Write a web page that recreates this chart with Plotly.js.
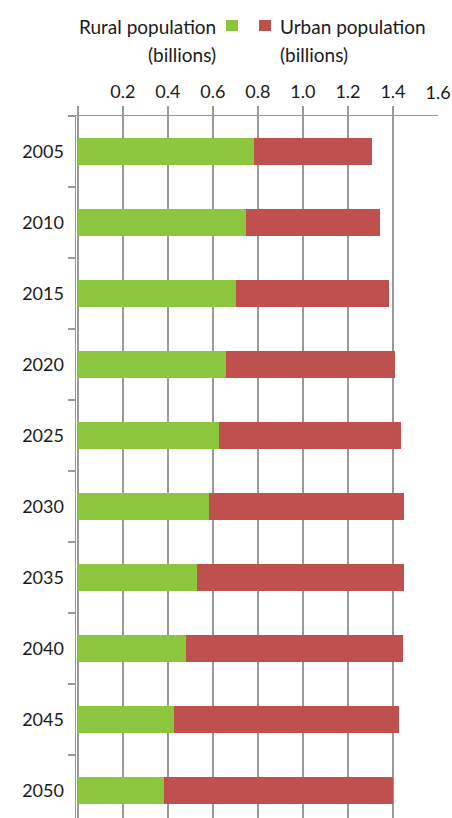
<!DOCTYPE html>
<html>
<head>
<meta charset="utf-8">
<script src="https://cdn.plot.ly/plotly-3.0.1.min.js"></script>
<style>html,body{margin:0;padding:0;background:#fff}#chart{width:452px;height:818px}</style>
</head>
<body>
<div id="chart"></div>
<script>
const years = ['2005','2010','2015','2020','2025','2030','2035','2040','2045','2050'];
const rural = [0.782,0.746,0.704,0.659,0.625,0.583,0.531,0.481,0.429,0.384];
const urban = [0.525,0.595,0.680,0.751,0.812,0.868,0.920,0.963,0.997,1.017];
const seriesNames = ['Rural population', 'Urban population'];
const unitLabel = '(billions)';
const xTicks = [0,0.2,0.4,0.6,0.8,1.0,1.2,1.4];
const xTickText = ['','0.2','0.4','0.6','0.8','1.0','1.2','1.4'];
const lastTick = [1.6];
const lastTickText = ['1.6'];

const GREEN = '#8cc63f', RED = '#c0504d', GRID = '#9a9a9a', TXT = '#1a1a1a';
const FONT = 'Lato, "Open Sans", sans-serif';

const traces = [
  {type:'bar', orientation:'h', y:years, x:rural, name:seriesNames[0],
   marker:{color:GREEN, line:{width:0}}, hoverinfo:'x+y'},
  {type:'bar', orientation:'h', y:years, x:urban, name:seriesNames[1],
   marker:{color:RED, line:{width:0}}, hoverinfo:'x+y'}
];

const layout = {
  width:452, height:818,
  margin:{l:76, r:14, t:116, b:0, pad:0},
  barmode:'stack', bargap:0.614,
  showlegend:false,
  paper_bgcolor:'#fff', plot_bgcolor:'#fff',
  font:{family:FONT, size:16, color:TXT},
  xaxis:{side:'top', range:[-0.008,1.6], tickvals:xTicks, ticktext:xTickText,
    showgrid:true, gridcolor:GRID, gridwidth:1.5, zeroline:false,
    showline:true, linecolor:GRID, linewidth:1.5,
    ticks:'outside', ticklen:9, tickcolor:GRID, tickwidth:1.5,
    tickfont:{family:FONT, size:18, color:TXT}, fixedrange:true},
  xaxis2:{overlaying:'x', side:'top', range:[-0.008,1.6], tickvals:lastTick, ticktext:lastTickText,
    showgrid:false, zeroline:false, showline:false, ticks:'outside', ticklen:9, tickcolor:'rgba(0,0,0,0)',
    tickfont:{family:FONT, size:18, color:TXT}, fixedrange:true},
  yaxis:{type:'category', range:[9.387,-0.5], tickson:'boundaries',
    ticks:'outside', ticklen:7, tickcolor:GRID, tickwidth:1.5,
    showline:true, linecolor:GRID, linewidth:1.5, showgrid:false, zeroline:false,
    ticklabelstandoff:7,
    tickfont:{family:FONT, size:18, color:TXT}, fixedrange:true},
  annotations:[
    {xref:'paper', yref:'paper', x:(218-76)/362, y:1+(116-26)/702, xanchor:'right', yanchor:'middle',
     text:seriesNames[0], showarrow:false, font:{family:FONT, size:19, color:TXT}},
    {xref:'paper', yref:'paper', x:(218-76)/362, y:1+(116-55)/702, xanchor:'right', yanchor:'middle',
     text:unitLabel, showarrow:false, font:{family:FONT, size:19, color:TXT}},
    {xref:'paper', yref:'paper', x:(278-76)/362, y:1+(116-26)/702, xanchor:'left', yanchor:'middle',
     text:seriesNames[1], showarrow:false, font:{family:FONT, size:19, color:TXT}},
    {xref:'paper', yref:'paper', x:(278-76)/362, y:1+(116-55)/702, xanchor:'left', yanchor:'middle',
     text:unitLabel, showarrow:false, font:{family:FONT, size:19, color:TXT}}
  ],
  shapes:[
    {type:'rect', xref:'paper', yref:'paper', x0:(226-76)/362, x1:(238-76)/362,
     y0:1+(116-31)/702, y1:1+(116-20)/702, fillcolor:GREEN, line:{width:0}},
    {type:'rect', xref:'paper', yref:'paper', x0:(259-76)/362, x1:(271-76)/362,
     y0:1+(116-31)/702, y1:1+(116-20)/702, fillcolor:RED, line:{width:0}}
  ]
};
// empty trace so the second (label-only) axis is drawn
traces.push({type:'scatter', x:[], y:[], xaxis:'x2', yaxis:'y', showlegend:false, hoverinfo:'skip'});

Plotly.newPlot('chart', traces, layout, {displayModeBar:false, staticPlot:true});
</script>
</body>
</html>
